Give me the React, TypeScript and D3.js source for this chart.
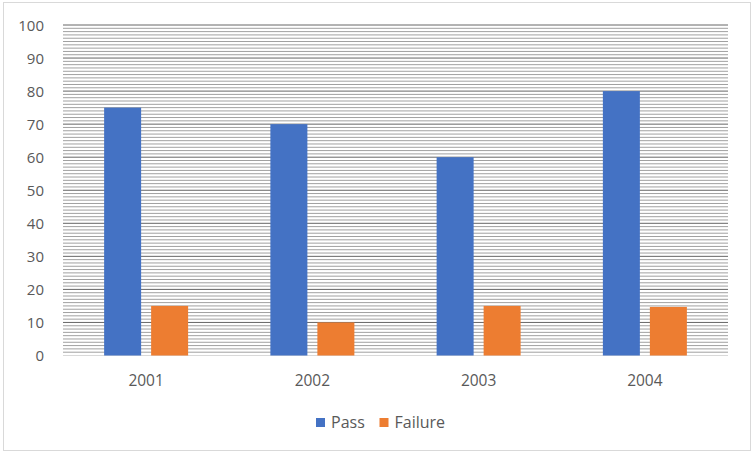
import React from "react";
import * as d3 from "d3";

const categories = ["2001", "2002", "2003", "2004"];
const passValues = [75, 70, 60, 80];
const failureValues = [15, 10, 15, 14.7];
const yTicks = [0, 10, 20, 30, 40, 50, 60, 70, 80, 90, 100];
const seriesNames = ["Pass", "Failure"];
const seriesColors = ["#4472C4", "#ED7D31"];

const W = 752;
const H = 454;
const plot = { left: 63, right: 728, top: 25, bottom: 355.5 };

export default function App() {
  const x = d3.scaleBand<string>().domain(categories).range([plot.left, plot.right]);
  const y = d3.scaleLinear().domain([0, 100]).range([plot.bottom, plot.top]);
  const minor = d3.range(1, 100).filter((v) => v % 10 !== 0);
  const major = yTicks.filter((v) => v !== 0);
  const barW = 37;
  const gap = 10;
  const series = [passValues, failureValues];
  const font = "'Open Sans', 'Noto Sans', sans-serif";

  return (
    <svg width={W} height={H} style={{ position: "absolute", left: 0, top: 0, background: "#fff" }} fontFamily={font}>
      <rect x={3.5} y={2.5} width={747} height={448} fill="#fff" stroke="#d9d9d9" strokeWidth={1} />
      {minor.map((v) => (
        <line key={"m" + v} x1={plot.left} x2={plot.right} y1={y(v)} y2={y(v)} stroke="#a0a0a0" strokeWidth={1} />
      ))}
      {major.map((v) => (
        <line key={"M" + v} x1={plot.left} x2={plot.right} y1={y(v)} y2={y(v)} stroke="#666" strokeWidth={1} />
      ))}
      <line x1={plot.left} x2={plot.right} y1={y(0)} y2={y(0)} stroke="#d9d9d9" strokeWidth={1} />
      {series.map((vals, si) =>
        categories.map((c, i) => {
          const cx = (x(c) as number) + x.bandwidth() / 2;
          const bx = si === 0 ? cx - gap / 2 - barW : cx + gap / 2;
          return (
            <rect key={si + "-" + c} x={bx} y={y(vals[i])} width={barW} height={y(0) - y(vals[i])} fill={seriesColors[si]} />
          );
        })
      )}
      {yTicks.map((v) => (
        <text key={"t" + v} x={44} y={y(v) + 5.5} textAnchor="end" fontSize={15} fill="#595959">
          {v}
        </text>
      ))}
      {categories.map((c) => (
        <text key={"c" + c} x={(x(c) as number) + x.bandwidth() / 2} y={386} textAnchor="middle" fontSize={15.5} fill="#595959">
          {c}
        </text>
      ))}
      {seriesNames.map((n, i) => {
        const lx = i === 0 ? 316 : 379.5;
        return (
          <g key={n}>
            <rect x={lx} y={418} width={9} height={9} fill={seriesColors[i]} />
            <text x={lx + 15} y={427.5} fontSize={16} fill="#595959">
              {n}
            </text>
          </g>
        );
      })}
    </svg>
  );
}
